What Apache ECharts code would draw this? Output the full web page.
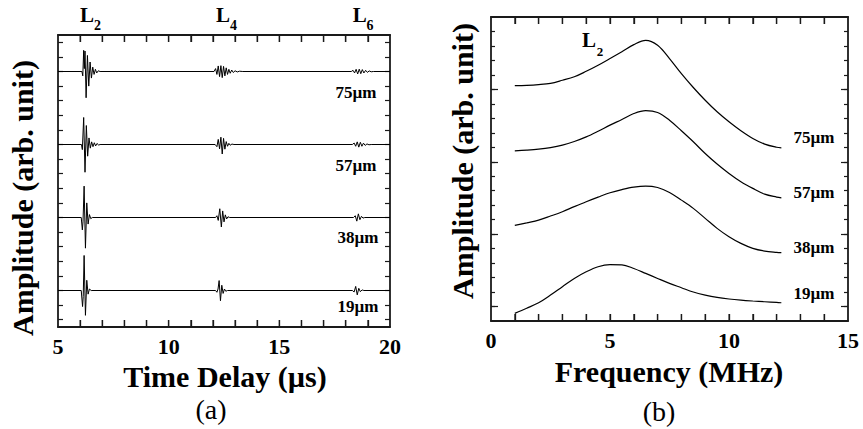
<!DOCTYPE html>
<html>
<head>
<meta charset="utf-8">
<title>Echo traces and spectra</title>
<script src="https://cdn.jsdelivr.net/npm/echarts@6/dist/echarts.min.js"></script>
<style>
  html, body { margin: 0; padding: 0; background: #fff; }
  #chart { width: 863px; height: 429px; }
</style>
</head>
<body>
<div id="chart"></div>
<script>
// ---- (a) time traces: time (µs) and amplitude relative to each trace baseline
const traceNames = ['75µm', '57µm', '38µm', '19µm'];
const traceOffsets = [17.5, 12.5, 7.5, 2.5];

const t75 = [5,
  6.08, 6.12, 6.16, 6.19, 6.22, 6.27, 6.33, 6.39, 6.45, 6.51, 6.57, 6.63, 6.69, 6.75, 6.82, 6.90,
  12.05, 12.12, 12.18, 12.24, 12.30, 12.36, 12.42, 12.48, 12.54, 12.60, 12.66, 12.72, 12.78, 12.85, 12.92, 13.0, 13.1, 13.2, 13.35,
  18.25, 18.33, 18.40, 18.47, 18.54, 18.61, 18.68, 18.75, 18.82, 18.90, 18.98, 19.06, 19.15, 19.25,
  20];
const a75 = [0,
  0, -0.3, 1.45, 0.2, 1.4, -1.8, 1.1, -1.0, 0.65, -0.45, 0.3, -0.2, 0.15, -0.1, 0.05, 0,
  0, 0.2, -0.2, 0.38, -0.35, 0.4, -0.42, 0.35, -0.3, 0.25, -0.2, 0.15, -0.12, 0.1, -0.07, 0.05, -0.03, 0.02, 0,
  0, 0.08, -0.1, 0.15, -0.17, 0.16, -0.15, 0.13, -0.1, 0.08, -0.06, 0.04, -0.02, 0,
  0];

const t57 = [5,
  6.06, 6.10, 6.16, 6.22, 6.28, 6.34, 6.40, 6.46, 6.52, 6.58, 6.64, 6.70, 6.76, 6.84, 6.90,
  12.10, 12.18, 12.24, 12.30, 12.36, 12.42, 12.48, 12.54, 12.60, 12.66, 12.72, 12.78, 12.86, 12.95,
  18.30, 18.38, 18.45, 18.52, 18.59, 18.66, 18.73, 18.80, 18.88, 18.96, 19.05, 19.15,
  20];
const a57 = [0,
  0, -0.35, 1.85, -1.9, 1.3, -0.8, 0.45, -0.25, 0.18, -0.15, 0.12, -0.1, 0.07, -0.04, 0,
  0, -0.15, 0.35, -0.3, 0.5, -0.65, 0.42, -0.32, 0.2, -0.12, 0.08, -0.05, 0.03, 0,
  0, 0.1, -0.12, 0.18, -0.18, 0.15, -0.12, 0.09, -0.06, 0.04, -0.02, 0,
  0];

const t38 = [5,
  6.05, 6.10, 6.13, 6.18, 6.24, 6.30, 6.36, 6.42, 6.48, 6.55,
  12.12, 12.18, 12.24, 12.31, 12.38, 12.44, 12.50, 12.56, 12.62, 12.68, 12.76,
  18.35, 18.43, 18.50, 18.57, 18.64, 18.71, 18.78, 18.86,
  20];
const a38 = [0,
  0, -0.85, -0.3, 2.15, -2.1, 1.0, -0.45, 0.2, -0.08, 0,
  0, 0.12, -0.2, 0.6, -0.65, 0.45, -0.3, 0.18, -0.1, 0.05, 0,
  0, 0.12, -0.25, 0.25, -0.15, 0.08, -0.04, 0,
  0];

const t19 = [5,
  6.05, 6.11, 6.14, 6.18, 6.24, 6.30, 6.36, 6.42, 6.50,
  12.12, 12.18, 12.23, 12.28, 12.34, 12.40, 12.46, 12.52, 12.58, 12.66,
  18.30, 18.38, 18.45, 18.52, 18.59, 18.66, 18.74, 18.82,
  20];
const a19 = [0,
  0, -1.1, -0.4, 2.4, -1.7, 0.7, -0.25, 0.1, 0,
  0, -0.12, 0.1, 0.68, -0.7, 0.36, -0.2, 0.1, -0.05, 0,
  0, -0.1, 0.28, -0.3, 0.15, -0.08, 0.04, 0,
  0];

// ---- (b) L2 spectra (arb. unit, stacked)
const freq = [1, 1.5, 2, 2.5, 3, 3.5, 4, 4.5, 5, 5.5, 6, 6.5, 7, 7.5, 8, 8.5, 9, 9.5, 10, 10.5, 11, 11.5, 12, 12.2];
const s75 = [16.26, 16.28, 16.33, 16.42, 16.63, 16.87, 17.25, 17.67, 18.13, 18.6, 19.09, 19.39, 19.05, 18.13, 17.09, 16.13, 15.25, 14.45, 13.76, 13.14, 12.61, 12.22, 12.0, 11.96];
const s57 = [11.75, 11.8, 11.87, 11.98, 12.15, 12.4, 12.72, 13.11, 13.53, 13.92, 14.33, 14.53, 14.4, 13.87, 13.14, 12.38, 11.57, 10.84, 10.19, 9.62, 9.16, 8.76, 8.56, 8.51];
const s38 = [6.6, 6.78, 6.97, 7.25, 7.55, 7.9, 8.24, 8.56, 8.86, 9.08, 9.25, 9.32, 9.22, 8.88, 8.35, 7.78, 7.09, 6.4, 5.82, 5.36, 5.02, 4.83, 4.74, 4.72];
const s19 = [0.53, 0.88, 1.26, 1.79, 2.37, 2.94, 3.4, 3.75, 3.89, 3.88, 3.63, 3.29, 2.94, 2.6, 2.3, 2.0, 1.79, 1.63, 1.52, 1.44, 1.38, 1.33, 1.28, 1.26];

// ---- tick values
const timeLabels = [5, 10, 15, 20];
const timeTicks = [6, 7, 8, 9, 10, 11, 12, 13, 14, 15, 16, 17, 18, 19];
const freqLabels = [0, 5, 10, 15];
const freqTicks = [1, 2, 3, 4, 5, 6, 7, 8, 9, 10, 11, 12, 13, 14];
const ampTicksA = [0.5, 1.5, 2.5, 3.5, 4.5, 5.5, 6.5, 7.5, 8.5, 9.5, 10.5, 11.5, 12.5, 13.5, 14.5, 15.5, 16.5, 17.5, 18.5, 19.5];
const ampTicksB = [1, 2, 3, 4, 5, 6, 7, 8, 9, 10, 11, 12, 13, 14, 15, 16, 17, 18, 19, 20];
const ampMajorB = [1, 6, 11, 16];

const serif = '"Liberation Serif", "Times New Roman", serif';
const ink = '#1a1a1a';

const chart = echarts.init(document.getElementById('chart'), null, { renderer: 'svg' });

// one side of the boxed frame, ticks pointing inward
const frameAxis = (gridIndex, position, min, max, ticks, opts = {}) => ({
  type: 'value',
  gridIndex: gridIndex,
  position: position,
  min: min,
  max: max,
  axisLine: { show: opts.line !== false, onZero: false, lineStyle: { color: ink, width: 1.8 } },
  axisTick: {
    show: true, inside: true, length: opts.tickLen || 5,
    customValues: ticks,
    lineStyle: { color: ink, width: opts.tickWidth || 1.2 }
  },
  axisLabel: opts.labels ? {
    show: true, customValues: opts.labels, margin: 8, hideOverlap: false,
    color: '#000', fontFamily: serif, fontWeight: 'bold', fontSize: 22
  } : { show: false },
  splitLine: { show: false }
});

const traces = [[t75, a75], [t57, a57], [t38, a38], [t19, a19]];
const spectra = [s75, s57, s38, s19];

const traceSeries = traces.map(([t, a], i) => ({
  name: 'trace ' + traceNames[i],
  type: 'line',
  xAxisIndex: 0,
  yAxisIndex: 0,
  data: t.map((x, k) => [x, a[k] + traceOffsets[i]]),
  symbol: 'none',
  silent: true,
  lineStyle: { color: '#000', width: 1 }
}));

const spectrumSeries = spectra.map((s, i) => ({
  name: 'spectrum ' + traceNames[i],
  type: 'line',
  xAxisIndex: 2,
  yAxisIndex: 2,
  data: freq.map((f, k) => [f, s[k]]),
  symbol: 'none',
  smooth: 0.35,
  silent: true,
  lineStyle: { color: '#000', width: 1.2 }
}));

// short inward marks along the top and bottom frame edges, placed through the axes' scales
const edgeMarks = (values, xi, yi, yEdge, dir) => ({
  type: 'scatter',
  xAxisIndex: xi,
  yAxisIndex: yi,
  data: values.map(v => [v, yEdge]),
  symbol: 'rect',
  symbolSize: [1.3, 7],
  symbolOffset: [0, dir * 3.5],
  clip: false,
  silent: true,
  z: 5,
  itemStyle: { color: ink }
});

const tickSeries = [
  edgeMarks(timeTicks, 0, 0, 0, -1),
  edgeMarks(timeTicks, 0, 0, 20, 1),
  edgeMarks(freqTicks, 2, 2, 0, -1),
  edgeMarks(freqTicks, 2, 2, 21, 1)
];

const txt = (text, x, y, size, opts = {}) => ({
  type: 'text',
  x: x,
  y: y,
  rotation: opts.rotation || 0,
  silent: true,
  style: {
    text: text,
    fill: '#000',
    font: (opts.normal ? '' : 'bold ') + size + 'px ' + serif,
    align: 'center',
    verticalAlign: 'middle',
    textAlign: 'center',
    textVerticalAlign: 'middle'
  }
});

const labelsA = [[356, 92], [356, 165], [358, 237], [358, 306]];
const labelsB = [[814, 137], [814, 192], [814, 247], [814, 293]];

const graphics = [
  txt('Amplitude (arb. unit)', 22, 198, 30, { rotation: Math.PI / 2 }),
  txt('Amplitude (arb. unit)', 462, 161, 30, { rotation: Math.PI / 2 }),
  txt('Time Delay (µs)', 225, 376, 30),
  txt('Frequency (MHz)', 669, 371, 30),
  txt('(a)', 211, 409, 28, { normal: true }),
  txt('(b)', 659, 411, 28, { normal: true }),
  // echo markers
  txt('L', 87, 14.5, 21), txt('2', 97.5, 25, 14),
  txt('L', 223, 14.5, 21), txt('4', 233.5, 25, 14),
  txt('L', 359.7, 14.5, 21), txt('6', 370, 25, 14),
  txt('L', 589, 40, 21), txt('2', 600, 51, 13)
];
traceNames.forEach((n, i) => {
  graphics.push(txt(n, labelsA[i][0], labelsA[i][1], 17));
  graphics.push(txt(n, labelsB[i][0], labelsB[i][1], 17));
});

chart.setOption({
  animation: false,
  backgroundColor: '#fff',
  grid: [
    { left: 58, top: 35, width: 332, height: 292, containLabel: false },
    { left: 491, top: 17, width: 357, height: 304, containLabel: false }
  ],
  xAxis: [
    frameAxis(0, 'bottom', 5, 20, timeTicks, { labels: timeLabels, tickLen: 7, tickWidth: 1.3 }),
    frameAxis(0, 'top', 5, 20, timeTicks, { tickLen: 7, tickWidth: 1.3 }),
    frameAxis(1, 'bottom', 0, 15, freqTicks, { labels: freqLabels, tickLen: 7, tickWidth: 1.3 }),
    frameAxis(1, 'top', 0, 15, freqTicks, { tickLen: 7, tickWidth: 1.3 })
  ],
  yAxis: [
    frameAxis(0, 'left', 0, 20, ampTicksA),
    frameAxis(0, 'right', 0, 20, ampTicksA),
    frameAxis(1, 'left', 0, 21, ampTicksB, { tickLen: 4 }),
    frameAxis(1, 'right', 0, 21, ampTicksB, { tickLen: 4 }),
    frameAxis(1, 'left', 0, 21, ampMajorB, { tickLen: 7, line: false }),
    frameAxis(1, 'right', 0, 21, ampMajorB, { tickLen: 7, line: false })
  ],
  series: traceSeries.concat(spectrumSeries, tickSeries),
  graphic: { elements: graphics }
});
</script>
</body>
</html>
